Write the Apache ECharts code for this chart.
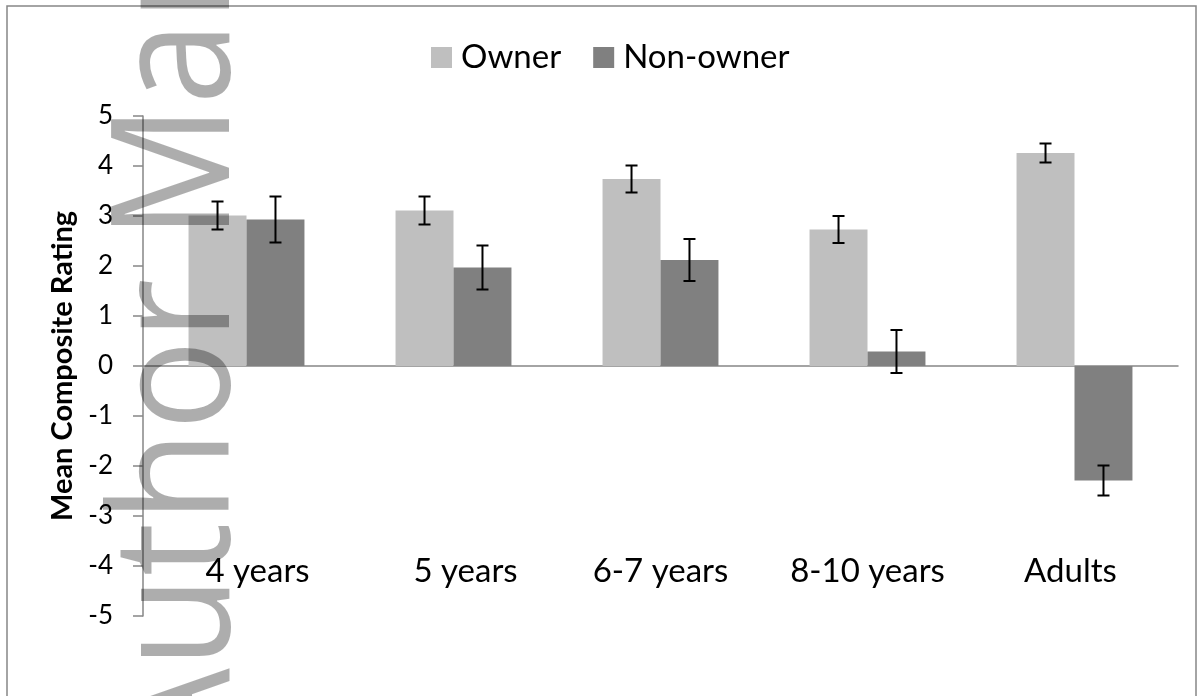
<!DOCTYPE html>
<html>
<head>
<meta charset="utf-8">
<script src="https://cdn.jsdelivr.net/npm/echarts@6/dist/echarts.min.js"></script>
<style>
html,body{margin:0;padding:0;background:#fff;}
#chart{width:1202px;height:696px;}
</style>
</head>
<body>
<div id="chart"></div>
<script>
const categories = ['4 years', '5 years', '6-7 years', '8-10 years', 'Adults'];
const ownerValues = [3.01, 3.11, 3.74, 2.73, 4.26];
const ownerErrors = [0.28, 0.28, 0.27, 0.27, 0.19];
const nonOwnerValues = [2.93, 1.97, 2.12, 0.29, -2.29];
const nonOwnerErrors = [0.46, 0.44, 0.42, 0.43, 0.30];
const seriesNames = ['Owner', 'Non-owner'];
const yTicks = [-5, 5, 1];
const yAxisTitle = 'Mean Composite Rating';
const watermarkText = 'Author Manuscript';

const FONT = 'Lato, "Open Sans", sans-serif';
const COLORS = ['#BFBFBF', '#808080'];
const CAT_GAP = 0.44;
// small horizontal nudges of the category labels, as in the original layout
const LABEL_PADS = [[0, 0, 0, 22], [0, 0, 0, 24], [0, 0, 0, 0], [0, 0, 0, 0], [0, 8, 0, 0]];

function errorSeries(name, values, errors, side) {
  return {
    type: 'custom',
    name: name + ' error',
    z: 5,
    silent: true,
    data: values.map((v, i) => [i, v, errors[i]]),
    renderItem: function (params, api) {
      const idx = api.value(0);
      const v = api.value(1);
      const e = api.value(2);
      const band = api.size([1, 0])[0];
      const barW = band * (1 - CAT_GAP) / 2;
      const off = side * barW / 2;
      const pHi = api.coord([idx, v + e]);
      const pLo = api.coord([idx, v - e]);
      const x = pHi[0] + off;
      const cap = 6;
      const st = { stroke: '#000', lineWidth: 2 };
      return {
        type: 'group',
        children: [
          { type: 'line', shape: { x1: x, y1: pHi[1], x2: x, y2: pLo[1] }, style: st },
          { type: 'line', shape: { x1: x - cap, y1: pHi[1], x2: x + cap, y2: pHi[1] }, style: st },
          { type: 'line', shape: { x1: x - cap, y1: pLo[1], x2: x + cap, y2: pLo[1] }, style: st }
        ]
      };
    }
  };
}

const chart = echarts.init(document.getElementById('chart'), null, { renderer: 'canvas' });
chart.setOption({
  animation: false,
  backgroundColor: '#fff',
  color: COLORS,
  legend: {
    data: seriesNames,
    left: 426,
    top: 36,
    itemWidth: 21,
    itemHeight: 21,
    itemGap: 32,
    icon: 'rect',
    textStyle: { fontFamily: FONT, fontSize: 33, color: '#000', padding: [0, 0, 0, 4] }
  },
  grid: [
    { left: 143, right: 24, top: 116, bottom: 80, containLabel: false, outerBoundsMode: 'none' },
    { left: 143, right: 24, top: 116, bottom: 143, containLabel: false, outerBoundsMode: 'none' }
  ],
  xAxis: [
    {
      type: 'category',
      gridIndex: 0,
      data: categories,
      axisLine: { onZero: true, lineStyle: { color: '#868686', width: 1.5 } },
      axisTick: { show: false },
      axisLabel: { show: false },
      splitLine: { show: false }
    },
    {
      type: 'category',
      gridIndex: 1,
      data: categories.map((c, i) => ({ value: c, textStyle: { padding: LABEL_PADS[i] } })),
      position: 'bottom',
      axisLine: { show: false, onZero: false },
      axisTick: { show: false },
      axisLabel: { margin: 2, fontFamily: FONT, fontSize: 33, color: '#000' },
      splitLine: { show: false }
    }
  ],
  yAxis: [
    {
      type: 'value',
      gridIndex: 0,
      min: yTicks[0],
      max: yTicks[1],
      interval: yTicks[2],
      name: yAxisTitle,
      nameLocation: 'middle',
      nameGap: 53,
      nameRotate: 90,
      nameTextStyle: { fontFamily: FONT, fontSize: 29, fontWeight: 'bold', color: '#000' },
      axisLine: { show: true, lineStyle: { color: '#868686', width: 1.5 } },
      axisTick: { show: true, inside: false, length: 10, lineStyle: { color: '#868686', width: 1.5 } },
      axisLabel: { margin: 30, fontFamily: FONT, fontSize: 26, color: '#000' },
      splitLine: { show: false }
    },
    {
      type: 'value',
      gridIndex: 1,
      show: false,
      min: yTicks[0],
      max: yTicks[1]
    }
  ],
  series: [
    {
      name: seriesNames[0], type: 'bar', data: ownerValues,
      barGap: '0%', barCategoryGap: (CAT_GAP * 100) + '%',
      itemStyle: { color: COLORS[0] }
    },
    {
      name: seriesNames[1], type: 'bar', data: nonOwnerValues,
      barGap: '0%', barCategoryGap: (CAT_GAP * 100) + '%',
      itemStyle: { color: COLORS[1] }
    },
    errorSeries(seriesNames[0], ownerValues, ownerErrors, -1),
    errorSeries(seriesNames[1], nonOwnerValues, nonOwnerErrors, 1)
  ],
  graphic: [
    {
      type: 'rect', z: 0, silent: true,
      shape: { x: 7, y: 6, width: 1189, height: 760 },
      style: { fill: 'none', stroke: '#868686', lineWidth: 1.5 }
    },
    {
      type: 'text', z: 100, silent: true,
      x: 182, y: 763, rotation: Math.PI / 2, scaleX: 0.91,
      style: {
        text: watermarkText,
        font: '165px "Open Sans"',
        fill: 'rgba(0,0,0,0.32)',
        align: 'left',
        verticalAlign: 'middle'
      }
    }
  ]
});
</script>
</body>
</html>
